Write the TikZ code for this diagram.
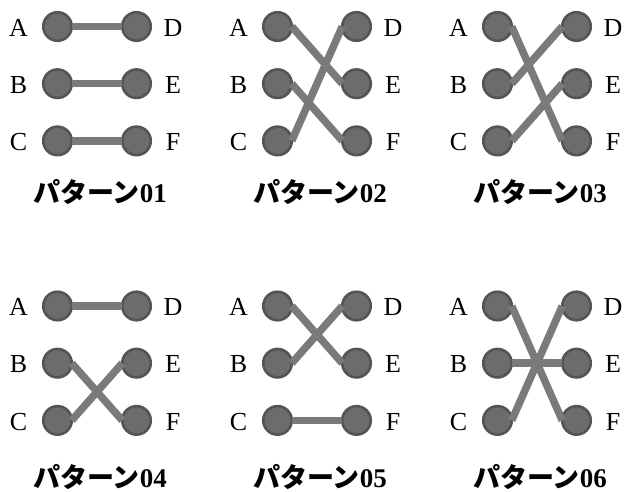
\documentclass[tikz,border=0pt]{standalone}
\usepackage{fontspec}
\setmainfont{Liberation Serif}
\newfontfamily\jpfont{Noto Sans CJK JP}
\definecolor{dotfill}{RGB}{108,108,108}
\definecolor{dotedge}{RGB}{84,84,84}
\definecolor{wire}{RGB}{122,122,122}
\begin{document}
\begin{tikzpicture}[x=1pt,y=-1pt,
  dot/.style={circle,draw=dotedge,fill=dotfill,line width=2.6pt,
    minimum size=28.5pt,inner sep=0pt,outer sep=0pt},
  pin/.style={font=\fontsize{26}{26}\selectfont,anchor=base,inner sep=0pt},
  link/.style={draw=wire,line width=7.5pt,line cap=butt},
  caption/.style={anchor=base,inner sep=0pt}]
\useasboundingbox[fill=white] (0,0) rectangle (625,492);
% each panel: index / left column x / top row y / caption baseline / number / links
\foreach \p/\cx/\ry/\cb/\num/\links in {
  1/57.5/26.5/203/01/{A/D,B/E,C/F},
  2/277.5/26.5/203/02/{A/E,B/F,C/D},
  3/497.5/26.5/203/03/{A/F,B/D,C/E},
  4/57.5/306/487/04/{A/D,B/F,C/E},
  5/277.5/306/487/05/{A/E,B/D,C/F},
  6/497.5/306/487/06/{A/F,B/E,C/D}}{
  \foreach \l/\r/\k in {A/D/0,B/E/1,C/F/2}{
    \node[dot] (p\p-\l) at (\cx,\ry+57.2*\k) {};
    \node[dot] (p\p-\r) at (\cx+79,\ry+57.2*\k) {};
    \node[pin] (p\p-lab\l) at (\cx-39,\ry+57.2*\k+9.8) {\l};
    \node[pin] (p\p-lab\r) at (\cx+79+36.5,\ry+57.2*\k+9.8) {\r};
  }
  \foreach \s/\t in \links{
    \draw[link] (p\p-\s.east) -- (p\p-\t.west);
  }
  \node[caption] (p\p-cap) at (\cx+42.5,\cb)
    {\fontsize{27}{27}\selectfont{\jpfont\bfseries パターン}\textbf{\num}};
}
\end{tikzpicture}
\end{document}
